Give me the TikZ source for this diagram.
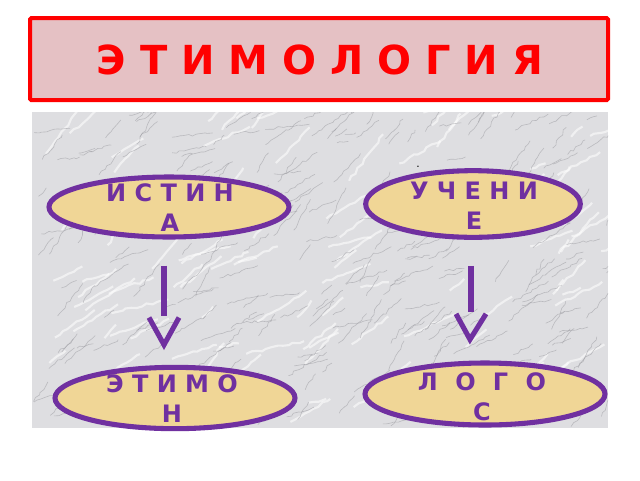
\documentclass[tikz,border=0pt]{standalone}
\usepackage{fontspec}
\setmainfont{DejaVu Sans}
\usetikzlibrary{shapes.geometric,calc,decorations.pathmorphing}
\definecolor{titlered}{RGB}{255,0,0}
\definecolor{titlepink}{RGB}{229,193,196}
\definecolor{marblebase}{RGB}{222,222,225}
\definecolor{veingray}{RGB}{150,150,156}
\definecolor{papyrus}{RGB}{240,214,150}
\definecolor{violetline}{RGB}{112,48,160}
\tikzset{
  titlebox/.style={draw=titlered, fill=titlepink, line width=3pt, rounded corners=1pt},
  wordoval/.style={ellipse, draw=violetline, fill=papyrus, line width=3.8pt, inner sep=0pt},
  wordtext/.style={text=violetline, font=\bfseries\fontsize{18}{22.5}\selectfont, align=center, inner sep=0pt},
  shaft/.style={draw=violetline, line width=5pt, line cap=butt},
  chevron/.style={draw=violetline, line width=3.8pt, line join=miter},
  vein/.style={draw=veingray, line width=0.45pt, opacity=0.5, decorate, decoration={random steps, segment length=3pt, amplitude=1pt}},
  whitevein/.style={draw=white, line width=1.6pt, opacity=0.55, decorate, decoration={random steps, segment length=4pt, amplitude=1pt}},
}
\begin{document}
\begin{tikzpicture}[x=0.75pt,y=-0.75pt]
\useasboundingbox (0,0) rectangle (640,480);
\fill[white] (0,0) rectangle (640,480);
% title
\draw[titlebox] (30,18) rectangle (608,100);
\node[text=titlered, font=\bfseries\fontsize{30}{36}\selectfont, inner sep=0pt] (title) at (320,60) {Э Т И М О Л О Г И Я};
% marble
\begin{scope}
\clip (32,112) rectangle (608,428);
\fill[marblebase] (32,112) rectangle (608,428);
\pgfmathsetseed{5}
\foreach \i in {1,...,110}{
  \pgfmathsetmacro{\xx}{32+576*rnd}
  \pgfmathsetmacro{\yy}{112+316*rnd}
  \pgfmathsetmacro{\ll}{15+45*rnd}
  \pgfmathsetmacro{\aa}{10+45*rnd}
  \draw[whitevein] (\xx,\yy) -- ++({\ll*cos(\aa)},{-\ll*sin(\aa)});
}
\foreach \i in {1,...,280}{
  \pgfmathsetmacro{\xx}{32+576*rnd}
  \pgfmathsetmacro{\yy}{112+316*rnd}
  \pgfmathsetmacro{\ll}{10+35*rnd}
  \pgfmathsetmacro{\aa}{5+60*rnd}
  \draw[vein] (\xx,\yy) -- ++({\ll*cos(\aa)},{-\ll*sin(\aa)});
}
\end{scope}
% ovals
\node[wordoval, minimum width=180pt, minimum height=45pt] (istina) at (169,207) {};
\node[wordtext] (istinat) at (170,208) {И С Т И Н\\А};
\node[wordoval, minimum width=161pt, minimum height=50pt] (uchenie) at (473,204) {};
\node[wordtext] (ucheniet) at (474,206) {У Ч Е Н И\\Е};
\node[wordoval, minimum width=180pt, minimum height=46.5pt] (logos) at (485,394) {};
\node[wordtext] (logost) at (482,397) {Л\hspace{13pt}О\hspace{13pt}Г\hspace{13pt}О\\С};
\node[wordoval, minimum width=180pt, minimum height=46pt] (etimon) at (175,398) {};
\node[wordtext] (etimont) at (172,399) {Э Т И М О\\Н};
\node[font=\fontsize{8}{8}\selectfont, inner sep=0pt] (dot) at (418,167) {.};
% arrows
\coordinate (a1) at ($(istina.south)+(-5,26)$);
\draw[shaft] (a1) -- ++(0,50) coordinate (a1e);
\draw[chevron] ($(a1e)+(-15,2)$) -- ($(etimon.north)+(-11,-20)$) -- ($(a1e)+(15,2)$);
\coordinate (a2) at ($(uchenie.south)+(-2,26)$);
\draw[shaft] (a2) -- ++(0,46) coordinate (a2e);
\draw[chevron] ($(a2e)+(-15,2)$) -- ($(logos.north)+(-15,-21)$) -- ($(a2e)+(15,2)$);
\end{tikzpicture}
\end{document}
